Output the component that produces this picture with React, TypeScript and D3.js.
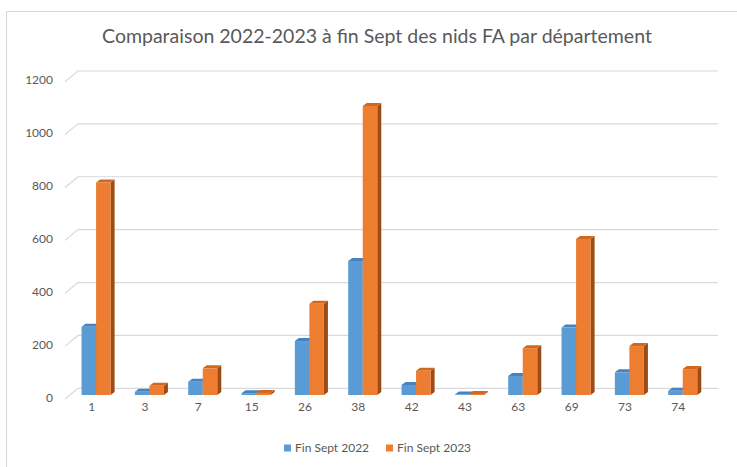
import React from 'react';
import * as d3 from 'd3';

const departements = ['1', '3', '7', '15', '26', '38', '42', '43', '63', '69', '73', '74'];
const sept2022 = [258, 12, 50, 7, 204, 507, 38, 2, 72, 255, 86, 16];
const sept2023 = [804, 35, 101, 8, 345, 1093, 92, 4, 177, 590, 185, 98];
const seriesNames = ['Fin Sept 2022', 'Fin Sept 2023'];
const yTicks = [0, 200, 400, 600, 800, 1000, 1200];

const W = 737;
const H = 467;
const FONT = 'Lato, "Open Sans", sans-serif';

const colors = [
  { front: '#5B9BD5', top: '#4584C2', side: '#3C6E9E' },
  { front: '#ED7D31', top: '#D0691F', side: '#9E4A14' },
];

// depth offsets for the 3D look
const wallDx = 13;
const wallDy = 10.7;
const barDx = 4;
const barDy = 3;

const App: React.FC = () => {
  const x0 = d3.scaleBand<string>().domain(departements).range([65, 705]).padding(0);
  const bw = x0.bandwidth();
  const x1 = d3.scaleBand<string>().domain(seriesNames).range([0, bw * 0.545]).padding(0);
  const pairOffset = bw * 0.31;
  const y = d3.scaleLinear().domain([0, 1200]).range([395, 77.7]);

  const values = [sept2022, sept2023];

  return (
    <svg width={W} height={H} style={{ position: 'absolute', left: 0, top: 0, background: '#fff' }}>
      <rect x={6.5} y={11.5} width={W + 10} height={H + 10} fill="#fff" stroke="#D9D9D9" />
      <text x={377} y={43} textAnchor="middle" fontFamily={FONT} fontSize={19.5} fill="#595959">
        Comparaison 2022-2023 à fin Sept des nids FA par département
      </text>

      {/* gridlines: short diagonal from the front edge, then across the back wall */}
      {yTicks.map((t) => (
        <polyline
          key={t}
          points={`65,${y(t) + 4} ${65 + wallDx},${y(t) + 4 - wallDy} 718,${y(t) + 4 - wallDy}`}
          fill="none"
          stroke="#D9D9D9"
          strokeWidth={1.2}
        />
      ))}

      {yTicks.map((t) => (
        <text key={t} x={53} y={y(t) + 6.5} textAnchor="end" fontFamily={FONT} fontSize={12} fill="#595959">
          {t}
        </text>
      ))}

      {departements.map((d, i) => (
        <g key={d}>
          {seriesNames.map((s, k) => {
            const bx = (x0(d) ?? 0) + pairOffset + (x1(s) ?? 0);
            const w = x1.bandwidth();
            const top = y(values[k][i]);
            const base = y(0);
            const c = colors[k];
            return (
              <g key={s}>
                <polygon
                  points={`${bx + w},${top} ${bx + w + barDx},${top - barDy} ${bx + w + barDx},${base - barDy} ${bx + w},${base}`}
                  fill={c.side}
                />
                <polygon
                  points={`${bx},${top} ${bx + barDx},${top - barDy} ${bx + w + barDx},${top - barDy} ${bx + w},${top}`}
                  fill={c.top}
                />
                <rect x={bx} y={top} width={w} height={base - top} fill={c.front} />
              </g>
            );
          })}
          <text
            x={(x0(d) ?? 0) + bw / 2}
            y={411}
            textAnchor="middle"
            fontFamily={FONT}
            fontSize={12}
            fill="#595959"
          >
            {d}
          </text>
        </g>
      ))}

      {/* legend */}
      {seriesNames.map((s, k) => {
        const lx = k === 0 ? 284 : 386;
        return (
          <g key={s}>
            <rect x={lx} y={444.5} width={7} height={7} fill={colors[k].front} />
            <text x={lx + 11} y={452} fontFamily={FONT} fontSize={12} fill="#595959">
              {s}
            </text>
          </g>
        );
      })}
    </svg>
  );
};

export default App;
